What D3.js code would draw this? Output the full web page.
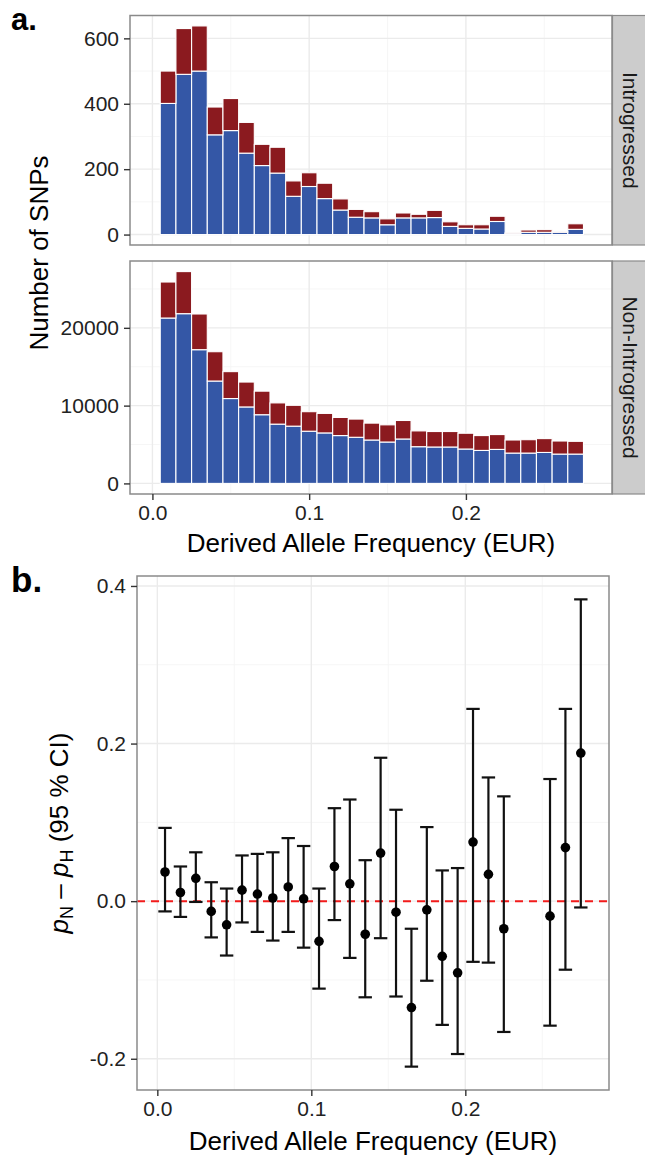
<!DOCTYPE html>
<html lang="en">

<head>
    <meta charset="UTF-8">
    <title>Derived Allele Frequency (EUR)</title>
    <script src="https://d3js.org/d3.v7.min.js"></script>
    <style>
        body { margin: 0; background: #fff; }
        svg { display: block; }
        text { font-family: "Liberation Sans", Arial, Helvetica, sans-serif; }
    </style>
</head>

<body>
    <svg width="645" height="1161"></svg>

<script>
    // histogram bins (left edge, width 0.01)
    var binLeft = [0.005, 0.015, 0.025, 0.035, 0.045, 0.055, 0.065, 0.075, 0.085, 0.095,
                   0.105, 0.115, 0.125, 0.135, 0.145, 0.155, 0.165, 0.175, 0.185, 0.195,
                   0.205, 0.215, 0.225, 0.235, 0.245, 0.255, 0.265];
    var binWidth = 0.01;

    // stacked counts: blue (bottom) and red (top)
    var introBlue = [401, 490, 500, 305, 318, 249, 211, 188, 117, 147, 110, 75, 53, 51, 30, 51, 51, 52, 25, 19, 17, 40, 4, 7, 7, 7, 16];
    var introRed = [99, 140, 138, 85, 98, 94, 65, 79, 47, 42, 47, 34, 24, 19, 18, 15, 11, 22, 14, 11, 13, 16, 1, 7, 8, 2, 17];
    var nonIntroBlue = [21260, 21820, 17190, 13160, 10910, 9830, 8830, 7620, 7360, 6710, 6490, 6150, 5930, 5580,
                        5320, 5710, 4720, 4680, 4680, 4420, 4240, 4370, 3900, 3900, 3980, 3770, 3770];
    var nonIntroRed = [4630, 5410, 4590, 3770, 3460, 3200, 3030, 2730, 2680, 2510, 2510, 2330, 2340, 2170,
                       2210, 2380, 2030, 1990, 1990, 2030, 1910, 1910, 1680, 1720, 1780, 1680, 1640];

    var facetNames = ["Introgressed", "Non-Introgressed"];
    var introTicks = [0, 200, 400, 600];
    var nonIntroTicks = [0, 10000, 20000];
    var freqTicks = [0, 0.1, 0.2];

    // panel b: pN - pH with 95% CI
    var diffFreq = [0.005, 0.015, 0.025, 0.035, 0.045, 0.055, 0.065, 0.075, 0.085, 0.095, 0.105, 0.115, 0.125,
                    0.135, 0.145, 0.155, 0.165, 0.175, 0.185, 0.195, 0.205, 0.215, 0.225, 0.255, 0.265, 0.275];
    var diffEst = [0.037, 0.011, 0.029, -0.013, -0.030, 0.014, 0.009, 0.004, 0.018, 0.003, -0.051, 0.044, 0.022,
                   -0.042, 0.061, -0.014, -0.135, -0.011, -0.070, -0.091, 0.075, 0.034, -0.035, -0.019, 0.068, 0.188];
    var diffLow = [-0.013, -0.020, -0.001, -0.046, -0.069, -0.027, -0.039, -0.050, -0.039, -0.059, -0.111, -0.024, -0.072,
                   -0.122, -0.047, -0.121, -0.210, -0.101, -0.157, -0.194, -0.077, -0.078, -0.166, -0.158, -0.087, -0.008];
    var diffHigh = [0.093, 0.044, 0.062, 0.024, 0.016, 0.058, 0.060, 0.062, 0.080, 0.070, 0.016, 0.118, 0.129,
                    0.052, 0.182, 0.116, -0.035, 0.094, 0.039, 0.042, 0.244, 0.157, 0.133, 0.155, 0.244, 0.383];
    var diffTicks = [-0.2, 0, 0.2, 0.4];

    var svg = d3.select("svg"),
        blue = "#3457a6",
        red = "#8b1a1f",
        borderCol = "#8a8a8a",
        inkCol = "#222",
        tickFont = 21,
        titleFont = 26;

    function minors(ticks, domain) {
        var step = ticks[1] - ticks[0], out = [];
        for (var i = -1; i < ticks.length; i++) {
            var v = ticks[0] + (i + 0.5) * step;
            if (v > domain[0] && v < domain[1]) out.push(v);
        }
        return out;
    }

    function grid(g, x, y, xt, yt) {
        var xd = x.domain(), yd = y.domain();
        g.append("g").selectAll("line").data(minors(yt, yd)).enter().append("line")
            .attr("x1", x.range()[0]).attr("x2", x.range()[1])
            .attr("y1", y).attr("y2", y)
            .attr("stroke", "#f4f4f4").attr("stroke-width", 0.8);
        g.append("g").selectAll("line").data(minors(xt, xd)).enter().append("line")
            .attr("y1", y.range()[0]).attr("y2", y.range()[1])
            .attr("x1", x).attr("x2", x)
            .attr("stroke", "#f4f4f4").attr("stroke-width", 0.8);
        g.append("g").selectAll("line").data(yt).enter().append("line")
            .attr("x1", x.range()[0]).attr("x2", x.range()[1])
            .attr("y1", y).attr("y2", y)
            .attr("stroke", "#ebebeb").attr("stroke-width", 1.4);
        g.append("g").selectAll("line").data(xt).enter().append("line")
            .attr("y1", y.range()[0]).attr("y2", y.range()[1])
            .attr("x1", x).attr("x2", x)
            .attr("stroke", "#ebebeb").attr("stroke-width", 1.4);
    }

    function yAxis(g, y, ticks, left, fmt) {
        var ax = g.append("g").attr("transform", "translate(" + left + ",0)")
            .call(d3.axisLeft(y).tickValues(ticks).tickSize(6).tickPadding(5).tickFormat(fmt));
        ax.select(".domain").remove();
        ax.selectAll("line").attr("stroke", "#333").attr("stroke-width", 1.4);
        ax.selectAll("text").attr("font-size", tickFont).attr("fill", inkCol)
            .attr("font-family", "Liberation Sans, Arial, sans-serif");
    }

    function xAxis(g, x, ticks, bottom) {
        var ax = g.append("g").attr("transform", "translate(0," + bottom + ")")
            .call(d3.axisBottom(x).tickValues(ticks).tickSize(6).tickPadding(5).tickFormat(d3.format(".1f")));
        ax.select(".domain").remove();
        ax.selectAll("line").attr("stroke", "#333").attr("stroke-width", 1.4);
        ax.selectAll("text").attr("font-size", tickFont).attr("fill", inkCol)
            .attr("font-family", "Liberation Sans, Arial, sans-serif");
    }

    // ---------- panel a ----------
    var xFreqA = d3.scaleLinear().domain([-0.0143, 0.2932]).range([130, 612]);

    var facets = [
        { name: facetNames[0], blue: introBlue, red: introRed, ticks: introTicks, top: 15.5, bottom: 245 },
        { name: facetNames[1], blue: nonIntroBlue, red: nonIntroRed, ticks: nonIntroTicks, top: 261, bottom: 494 }
    ];

    facets.forEach(function(f) {
        var rows = binLeft.map(function(b, i) {
            return { left: b, blue: f.blue[i], red: f.red[i] };
        });
        var maxTotal = d3.max(rows, function(d) { return d.blue + d.red; });
        var y = d3.scaleLinear()
            .domain([-0.05 * maxTotal, 1.05 * maxTotal])
            .range([f.bottom, f.top]);

        var g = svg.append("g");
        g.append("rect")
            .attr("x", 130).attr("y", f.top)
            .attr("width", 612 - 130).attr("height", f.bottom - f.top)
            .attr("fill", "#fff");
        grid(g, xFreqA, y, freqTicks, f.ticks);

        var stack = d3.stack().keys(["blue", "red"])(rows);
        g.append("g").selectAll("g")
            .data(stack)
            .enter().append("g")
            .attr("fill", function(d) { return d.key == "blue" ? blue : red; })
            .selectAll("rect")
            .data(function(d) { return d; })
            .enter().append("rect")
            .attr("x", function(d) { return xFreqA(d.data.left); })
            .attr("width", function(d) { return xFreqA(d.data.left + binWidth) - xFreqA(d.data.left); })
            .attr("y", function(d) { return y(d[1]); })
            .attr("height", function(d) { return y(d[0]) - y(d[1]); })
            .attr("stroke", "#fff")
            .attr("stroke-width", 1.1);

        g.append("rect")
            .attr("x", 130).attr("y", f.top)
            .attr("width", 612 - 130).attr("height", f.bottom - f.top)
            .attr("fill", "none").attr("stroke", borderCol).attr("stroke-width", 1.5);

        yAxis(g, y, f.ticks, 130, d3.format("d"));

        // facet strip
        g.append("rect")
            .attr("x", 612.5).attr("y", f.top)
            .attr("width", 34).attr("height", f.bottom - f.top)
            .attr("fill", "#cccccc").attr("stroke", borderCol).attr("stroke-width", 1.2);
        g.append("text")
            .attr("transform", "translate(630," + (f.top + f.bottom) / 2 + ")rotate(90)")
            .attr("text-anchor", "middle")
            .attr("dy", "0.35em")
            .attr("font-size", 21)
            .attr("fill", "#1a1a1a")
            .text(f.name);
    });

    xAxis(svg.append("g"), xFreqA, freqTicks, 494);

    svg.append("text")
        .attr("x", 371).attr("y", 552)
        .attr("text-anchor", "middle")
        .attr("font-size", titleFont)
        .text("Derived Allele Frequency (EUR)");

    svg.append("text")
        .attr("transform", "translate(48,253)rotate(-90)")
        .attr("text-anchor", "middle")
        .attr("font-size", titleFont)
        .text("Number of SNPs");

    svg.append("text")
        .attr("x", 11).attr("y", 30)
        .attr("font-size", 31).attr("font-weight", "bold")
        .text("a.");

    // ---------- panel b ----------
    var xFreqB = d3.scaleLinear().domain([-0.0132, 0.2933]).range([137, 609]);
    var lo = d3.min(diffLow), hi = d3.max(diffHigh), pad = 0.05 * (hi - lo);
    var yDiff = d3.scaleLinear().domain([lo - pad, hi + pad]).range([1090, 576]);

    var gb = svg.append("g");
    grid(gb, xFreqB, yDiff, freqTicks, diffTicks);

    gb.append("line")
        .attr("x1", 137).attr("x2", 609)
        .attr("y1", yDiff(0)).attr("y2", yDiff(0))
        .attr("stroke", "#f21b1b").attr("stroke-width", 2)
        .attr("stroke-dasharray", "8,6");

    var pts = diffFreq.map(function(f, i) {
        return { f: f, est: diffEst[i], low: diffLow[i], high: diffHigh[i] };
    });
    var capW = 0.0087;

    var bar = gb.append("g").selectAll("g")
        .data(pts)
        .enter().append("g")
        .attr("stroke", "#111")
        .attr("stroke-width", 2.2);
    bar.append("line")
        .attr("x1", function(d) { return xFreqB(d.f); })
        .attr("x2", function(d) { return xFreqB(d.f); })
        .attr("y1", function(d) { return yDiff(d.low); })
        .attr("y2", function(d) { return yDiff(d.high); });
    bar.append("line")
        .attr("x1", function(d) { return xFreqB(d.f - capW / 2); })
        .attr("x2", function(d) { return xFreqB(d.f + capW / 2); })
        .attr("y1", function(d) { return yDiff(d.high); })
        .attr("y2", function(d) { return yDiff(d.high); });
    bar.append("line")
        .attr("x1", function(d) { return xFreqB(d.f - capW / 2); })
        .attr("x2", function(d) { return xFreqB(d.f + capW / 2); })
        .attr("y1", function(d) { return yDiff(d.low); })
        .attr("y2", function(d) { return yDiff(d.low); });

    gb.append("g").selectAll("circle")
        .data(pts)
        .enter().append("circle")
        .attr("cx", function(d) { return xFreqB(d.f); })
        .attr("cy", function(d) { return yDiff(d.est); })
        .attr("r", 4.8)
        .attr("fill", "#000");

    gb.append("rect")
        .attr("x", 137).attr("y", 576)
        .attr("width", 609 - 137).attr("height", 1090 - 576)
        .attr("fill", "none").attr("stroke", borderCol).attr("stroke-width", 1.5);

    yAxis(gb, yDiff, diffTicks, 137, d3.format(".1f"));
    gb.selectAll("text").filter(function() { return this.textContent.indexOf("−") == 0; })
        .text(function() { return this.textContent.replace("−", "-"); });
    xAxis(gb, xFreqB, freqTicks, 1090);

    svg.append("text")
        .attr("x", 373).attr("y", 1150)
        .attr("text-anchor", "middle")
        .attr("font-size", titleFont)
        .text("Derived Allele Frequency (EUR)");

    var yl = svg.append("text")
        .attr("transform", "translate(68,833)rotate(-90)")
        .attr("text-anchor", "middle")
        .attr("font-size", titleFont);
    yl.append("tspan").attr("font-style", "italic").text("p");
    yl.append("tspan").attr("font-size", 18).attr("dy", 5).text("N");
    yl.append("tspan").attr("dy", -5).text(" \u2013 ");
    yl.append("tspan").attr("font-style", "italic").text("p");
    yl.append("tspan").attr("font-size", 18).attr("dy", 5).text("H");
    yl.append("tspan").attr("dy", -5).text(" (95 % CI)");

    svg.append("text")
        .attr("x", 11).attr("y", 592)
        .attr("font-size", 35).attr("font-weight", "bold")
        .text("b.");
</script>
</body>

</html>
